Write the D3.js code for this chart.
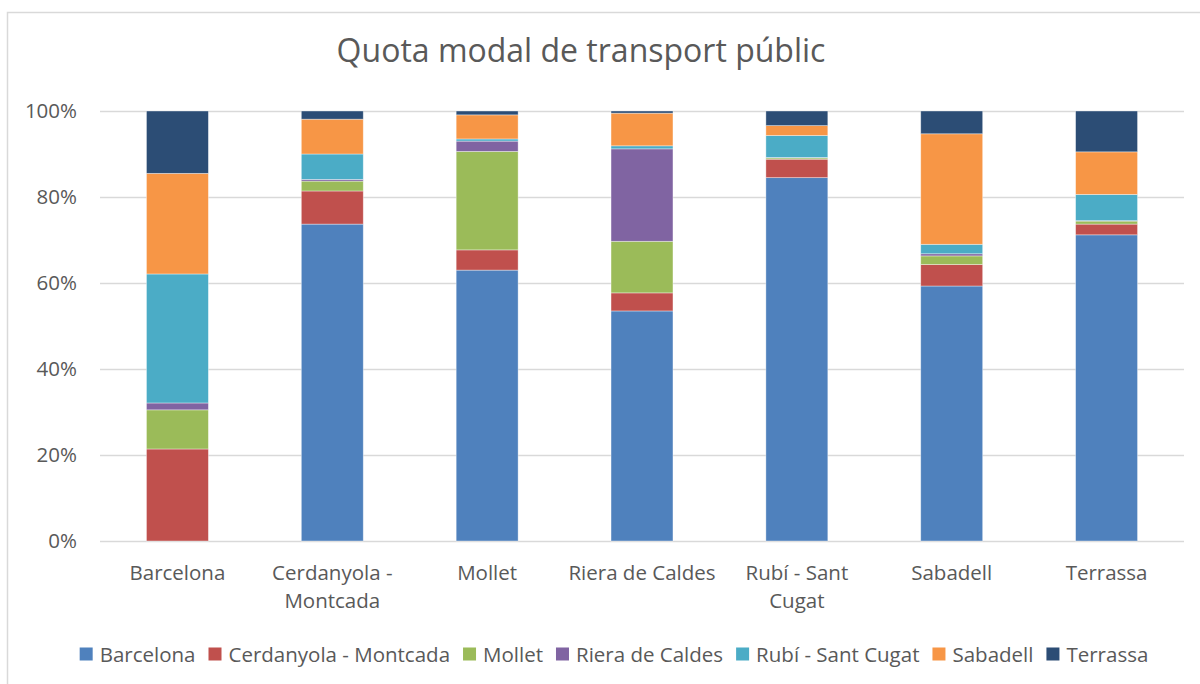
<!DOCTYPE html>
<html>
<head>
<meta charset="utf-8">
<script src="https://cdn.jsdelivr.net/npm/d3@7"></script>
<style>
  body { margin: 0; background: #fff; }
  text { font-family: "Open Sans", sans-serif; fill: #595959; }
</style>
</head>
<body>
<div id="chart"></div>
<script>
  // 1. DATA -------------------------------------------------------------------------
  const categories = ["Barcelona", "Cerdanyola - Montcada", "Mollet", "Riera de Caldes", "Rubí - Sant Cugat", "Sabadell", "Terrassa"]
  const categoryLines = [["Barcelona"], ["Cerdanyola -", "Montcada"], ["Mollet"], ["Riera de Caldes"], ["Rubí - Sant", "Cugat"], ["Sabadell"], ["Terrassa"]]
  const seriesNames = ["Barcelona", "Cerdanyola - Montcada", "Mollet", "Riera de Caldes", "Rubí - Sant Cugat", "Sabadell", "Terrassa"]

  // share (%) of each destination series, one value per origin category
  const barcelona  = [0.0, 73.7, 63.0, 53.5, 84.5, 59.3, 71.2]
  const cerdanyola = [21.4, 7.7, 4.7, 4.2, 4.3, 5.0, 2.5]
  const mollet     = [9.1, 2.3, 22.9, 12.0, 0.3, 2.0, 0.7]
  const riera      = [1.6, 0.4, 2.4, 21.5, 0.1, 0.5, 0.1]
  const rubi       = [30.0, 5.9, 0.5, 0.7, 5.1, 2.2, 6.1]
  const sabadell   = [23.4, 8.1, 5.6, 7.6, 2.3, 25.7, 9.9]
  const terrassa   = [14.5, 1.9, 0.9, 0.5, 3.4, 5.3, 9.5]

  const yTicks = [0, 20, 40, 60, 80, 100]

  const seriesValues = [barcelona, cerdanyola, mollet, riera, rubi, sabadell, terrassa]
  const colors = ["#4F81BD", "#C0504D", "#9BBB59", "#8064A2", "#4BACC6", "#F79646", "#2C4D75"]

  // 2. LAYOUT -------------------------------------------------------------------------
  const width = 1200,
        height = 684,
        plotLeft = 100,
        plotRight = 1184,
        plotTop = 111,
        plotBottom = 541,
        textColor = "#595959",
        gridColor = "#d9d9d9"

  const svg = d3.select("#chart").append("svg")
    .attr("width", width)
    .attr("height", height)

  // chart frame (only left and top visible in the crop)
  svg.append("rect")
    .attr("x", 7.5).attr("y", 12.5)
    .attr("width", 1210).attr("height", 700)
    .attr("fill", "none")
    .attr("stroke", gridColor)
    .attr("stroke-width", 1.5)

  svg.append("text")
    .attr("x", 581).attr("y", 62)
    .attr("text-anchor", "middle")
    .style("font-size", "32px")
    .text("Quota modal de transport públic")

  const x = d3.scaleBand()
    .domain(categories)
    .range([plotLeft, plotRight])
    .paddingInner(0.6)
    .paddingOuter(0.3)

  const y = d3.scaleLinear()
    .domain([0, 100])
    .range([plotBottom, plotTop])

  // gridlines + y labels
  const yAxis = svg.append("g")
    .attr("transform", `translate(${plotLeft},0)`)
    .call(d3.axisLeft(y).tickValues(yTicks).tickSize(-(plotRight - plotLeft)).tickPadding(23).tickFormat(d => d + "%"))
  yAxis.select(".domain").remove()
  yAxis.selectAll("line").attr("stroke", gridColor).attr("stroke-width", 1.5)
  yAxis.selectAll("text")
    .attr("fill", textColor)
    .style("font-size", "20.5px")
    .style("font-family", "'Open Sans', sans-serif")

  // stacked bars
  const rows = categories.map((c, i) => {
    const row = { category: c }
    seriesNames.forEach((s, j) => { row[s] = seriesValues[j][i] })
    return row
  })
  const stacked = d3.stack().keys(seriesNames)(rows)

  svg.append("g")
    .selectAll("g")
    .data(stacked)
    .join("g")
      .attr("fill", (d, i) => colors[i])
    .selectAll("rect")
    .data(d => d)
    .join("rect")
      .attr("x", d => x(d.data.category))
      .attr("y", d => y(d[1]))
      .attr("width", x.bandwidth())
      .attr("height", d => Math.max(0, y(d[0]) - y(d[1])))
      .attr("stroke", "#fff")
      .attr("stroke-opacity", 0.5)
      .attr("stroke-width", 0.75)

  // x labels (wrapped like the original)
  const xLabels = svg.append("g")
    .selectAll("text")
    .data(categories)
    .join("text")
      .attr("x", d => x(d) + x.bandwidth() / 2)
      .attr("y", 580)
      .attr("text-anchor", "middle")
      .style("font-size", "20.5px")
  xLabels.selectAll("tspan")
    .data((d, i) => categoryLines[i])
    .join("tspan")
      .attr("x", function() { return this.parentNode.getAttribute("x") })
      .attr("dy", (d, i) => i === 0 ? 0 : 28)
      .text(d => d)

  // legend, centred under the plot
  const legend = svg.append("g")
  const swatch = 13, swatchGap = 7, itemGap = 13
  const items = legend.selectAll("g")
    .data(seriesNames)
    .join("g")
  items.append("rect")
    .attr("width", swatch).attr("height", swatch)
    .attr("y", -swatch / 2 - 1)
    .attr("fill", (d, i) => colors[i])
  items.append("text")
    .attr("x", swatch + swatchGap)
    .attr("dy", "0.35em")
    .style("font-size", "20.5px")
    .text(d => d)

  let cursor = 0
  const offsets = []
  items.each(function() {
    offsets.push(cursor)
    cursor += swatch + swatchGap + d3.select(this).select("text").node().getComputedTextLength() + itemGap
  })
  const legendWidth = cursor - itemGap
  const legendStart = 614 - legendWidth / 2
  items.attr("transform", (d, i) => `translate(${legendStart + offsets[i]},655)`)
</script>
</body>
</html>
